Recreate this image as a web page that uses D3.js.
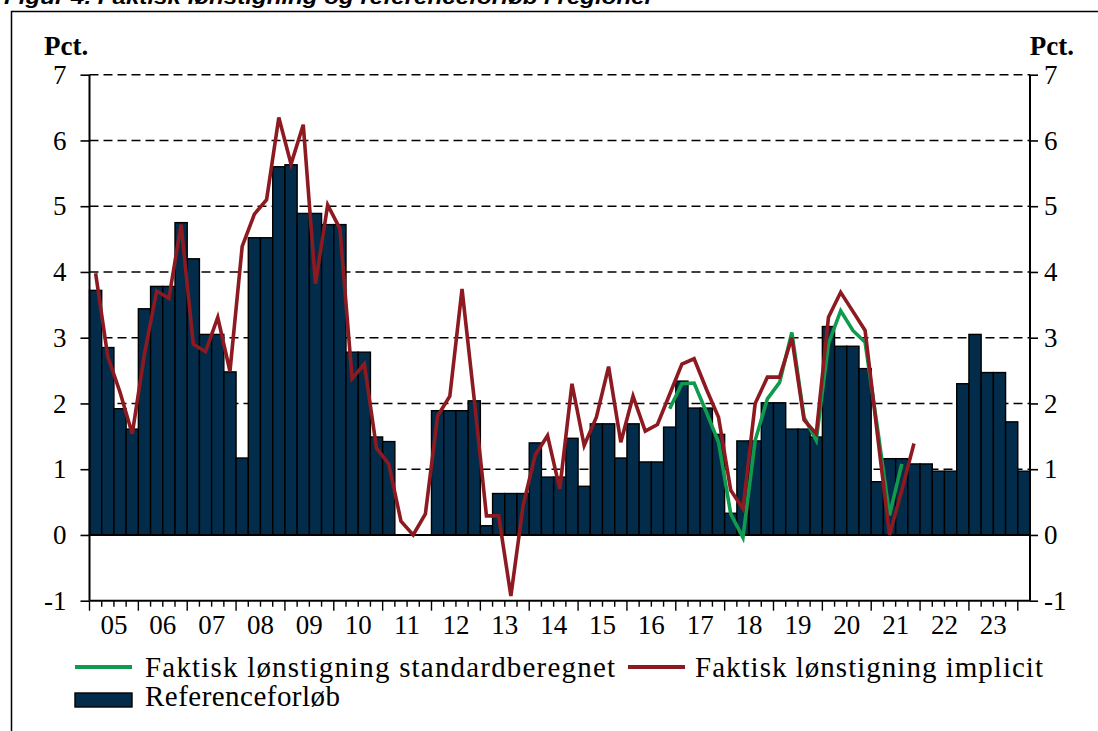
<!DOCTYPE html>
<html>
<head>
<meta charset="utf-8">
<script src="https://cdn.jsdelivr.net/npm/d3@7"></script>
<style>
  body { margin: 0; background: #fff; }
  svg { display: block; }
  text { font-family: "Liberation Serif", "Times New Roman", serif; fill: #000; }
</style>
</head>
<body>
<svg width="1098" height="731"></svg>
<script>
// quarters 2005K1 .. 2024K1
var years = ["05","06","07","08","09","10","11","12","13","14","15","16","17","18","19","20","21","22","23"];
var yTicks = [-1, 0, 1, 2, 3, 4, 5, 6, 7];

// Referenceforløb (bars), null = no bar
var reference = [
  3.72, 2.85, 1.92, 1.61,
  3.44, 3.78, 3.78, 4.75,
  4.20, 3.05, 3.05, 2.48,
  1.17, 4.52, 4.52, 5.60,
  5.63, 4.89, 4.89, 4.72,
  4.72, 2.78, 2.78, 1.49,
  1.42, null, null, null,
  1.89, 1.89, 1.89, 2.04,
  0.14, 0.63, 0.63, 0.63,
  1.40, 0.88, 0.88, 1.47,
  0.74, 1.69, 1.69, 1.17,
  1.69, 1.11, 1.11, 1.64,
  2.34, 1.93, 1.93, 1.53,
  0.33, 1.43, 1.43, 2.01,
  2.01, 1.61, 1.61, 1.49,
  3.17, 2.87, 2.87, 2.53,
  0.81, 1.16, 1.16, 1.08,
  1.08, 0.97, 0.97, 2.30,
  3.05, 2.47, 2.47, 1.72,
  0.97
];

// Faktisk lønstigning implicit
var implicit = [
  3.98, 2.71, 2.17, 1.54,
  2.75, 3.71, 3.60, 4.72,
  2.90, 2.79, 3.31, 2.49,
  4.39, 4.88, 5.10, 6.35,
  5.64, 6.24, 3.82, 5.02,
  4.66, 2.38, 2.60, 1.32,
  1.08, 0.21, 0.00, 0.32,
  1.81, 2.11, 3.74, 2.06,
  0.29, 0.29, -0.93, 0.45,
  1.22, 1.51, 0.70, 2.30,
  1.36, 1.79, 2.56, 1.41,
  2.11, 1.58, 1.68, 2.14,
  2.60, 2.68, 2.22, 1.79,
  0.68, 0.40, 2.00, 2.40,
  2.40, 3.00, 1.75, 1.54,
  3.31, 3.69, 3.40, 3.11,
  1.54, 0.00, 0.68, 1.39,
  null, null, null, null,
  null, null, null, null,
  null
];

// Faktisk lønstigning standardberegnet
var standard = [
  null, null, null, null,
  null, null, null, null,
  null, null, null, null,
  null, null, null, null,
  null, null, null, null,
  null, null, null, null,
  null, null, null, null,
  null, null, null, null,
  null, null, null, null,
  null, null, null, null,
  null, null, null, null,
  null, null, null, 1.92,
  2.30, 2.31, 1.87, 1.41,
  0.32, -0.04, 1.44, 2.07,
  2.32, 3.08, 1.79, 1.44,
  2.91, 3.41, 3.11, 2.93,
  1.64, 0.30, 1.08, null,
  null, null, null, null,
  null, null, null, null,
  null
];

var legendItems = ["Faktisk lønstigning standardberegnet", "Faktisk lønstigning implicit", "Referenceforløb"];

var barColor = "#022c4a", redColor = "#8e1a21", greenColor = "#0f9a4d";

var svg = d3.select("svg");

// frame + cut title
svg.append("rect")
    .attr("x", 11.5).attr("y", 11.5)
    .attr("width", 1100).attr("height", 740)
    .attr("fill", "none").attr("stroke", "#000").attr("stroke-width", 1.5);

svg.append("text")
    .attr("x", 4).attr("y", 4)
    .attr("textLength", 650).attr("lengthAdjust", "spacingAndGlyphs")
    .style("font-family", "'Liberation Sans', Arial, sans-serif")
    .style("font-weight", "bold").style("font-style", "italic")
    .style("font-size", "20px")
    .text("Figur 4. Faktisk lønstigning og referenceforløb i regioner");

var left = 89.5, right = 1030;

var x = d3.scaleBand()
    .domain(d3.range(reference.length))
    .range([left, right])
    .padding(0);

var y = d3.scaleLinear()
    .domain([-1, 7])
    .range([600.7, 74.7]);

var bw = x.bandwidth();

// dashed grid lines
svg.append("g").selectAll("line")
    .data(yTicks.filter(d => d > 0))
    .enter().append("line")
    .attr("x1", left).attr("x2", right)
    .attr("y1", d => y(d)).attr("y2", d => y(d))
    .attr("stroke", "#000").attr("stroke-width", 1.6)
    .attr("stroke-dasharray", "9,5");

// bars
svg.append("g").selectAll("rect")
    .data(reference.map((v, i) => ({i: i, v: v})).filter(d => d.v != null))
    .enter().append("rect")
    .attr("x", d => x(d.i))
    .attr("width", bw)
    .attr("y", d => y(Math.max(0, d.v)))
    .attr("height", d => Math.abs(y(d.v) - y(0)))
    .attr("fill", barColor)
    .attr("stroke", "#000").attr("stroke-width", 1.4);

// zero line
svg.append("line")
    .attr("x1", left).attr("x2", right)
    .attr("y1", y(0)).attr("y2", y(0))
    .attr("stroke", "#000").attr("stroke-width", 2);

// left and right axes
svg.append("g")
    .attr("transform", "translate(" + left + ",0)")
    .call(d3.axisLeft(y).tickValues(yTicks).tickSize(9).tickPadding(14).tickFormat(d => String(d)))
    .call(g => g.select(".domain").attr("stroke-width", 2).attr("d", "M0," + y(7) + "V" + y(-1)))
    .call(g => g.selectAll(".tick line").attr("stroke-width", 1.6))
    .call(g => g.selectAll("text").style("font-size", "27px").style("font-family", "'Liberation Serif', serif"));

svg.append("g")
    .attr("transform", "translate(" + right + ",0)")
    .call(d3.axisRight(y).tickValues(yTicks).tickSize(8).tickPadding(6).tickFormat(d => String(d)))
    .call(g => g.select(".domain").attr("stroke-width", 2).attr("d", "M0," + y(7) + "V" + y(-1)))
    .call(g => g.selectAll(".tick line").attr("stroke-width", 1.6))
    .call(g => g.selectAll("text").style("font-size", "27px").style("font-family", "'Liberation Serif', serif"));

// bottom axis at -1
svg.append("line")
    .attr("x1", left).attr("x2", right)
    .attr("y1", y(-1)).attr("y2", y(-1))
    .attr("stroke", "#000").attr("stroke-width", 2);

svg.append("g").selectAll("line")
    .data(d3.range(reference.length))
    .enter().append("line")
    .attr("x1", i => x(i)).attr("x2", i => x(i))
    .attr("y1", y(-1))
    .attr("y2", i => y(-1) + (i % 4 == 0 ? 10 : 6))
    .attr("stroke", "#000").attr("stroke-width", 1.4);

svg.append("g").selectAll("text")
    .data(years)
    .enter().append("text")
    .attr("x", (d, i) => x(i * 4) + 2 * bw)
    .attr("y", 634)
    .attr("text-anchor", "middle")
    .style("font-size", "27px")
    .text(d => d);

// "Pct." labels
svg.append("text").attr("x", 44).attr("y", 55)
    .style("font-size", "27px").style("font-weight", "bold").text("Pct.");
svg.append("text").attr("x", 1074).attr("y", 55).attr("text-anchor", "end")
    .style("font-size", "27px").style("font-weight", "bold").text("Pct.");

// lines
var line = d3.line()
    .defined(d => d.v != null)
    .x(d => x(d.i) + bw / 2)
    .y(d => y(d.v));

svg.append("path")
    .datum(standard.map((v, i) => ({i: i, v: v})))
    .attr("d", line)
    .attr("fill", "none").attr("stroke", greenColor).attr("stroke-width", 3.6)
    .attr("stroke-linejoin", "miter");

svg.append("path")
    .datum(implicit.map((v, i) => ({i: i, v: v})))
    .attr("d", line)
    .attr("fill", "none").attr("stroke", redColor).attr("stroke-width", 3.6)
    .attr("stroke-linejoin", "miter");

// legend
var lg = svg.append("g");
lg.append("line").attr("x1", 75).attr("x2", 132).attr("y1", 667).attr("y2", 667)
    .attr("stroke", greenColor).attr("stroke-width", 4);
lg.append("text").attr("x", 145).attr("y", 677).attr("textLength", 470)
    .style("font-size", "29px").text(legendItems[0]);
lg.append("line").attr("x1", 628).attr("x2", 685).attr("y1", 667).attr("y2", 667)
    .attr("stroke", redColor).attr("stroke-width", 4);
lg.append("text").attr("x", 695).attr("y", 677).attr("textLength", 348)
    .style("font-size", "29px").text(legendItems[1]);
lg.append("rect").attr("x", 75).attr("y", 693).attr("width", 57).attr("height", 14)
    .attr("fill", barColor).attr("stroke", "#000").attr("stroke-width", 1.4);
lg.append("text").attr("x", 145).attr("y", 706).attr("textLength", 195)
    .style("font-size", "29px").text(legendItems[2]);
</script>
</body>
</html>
